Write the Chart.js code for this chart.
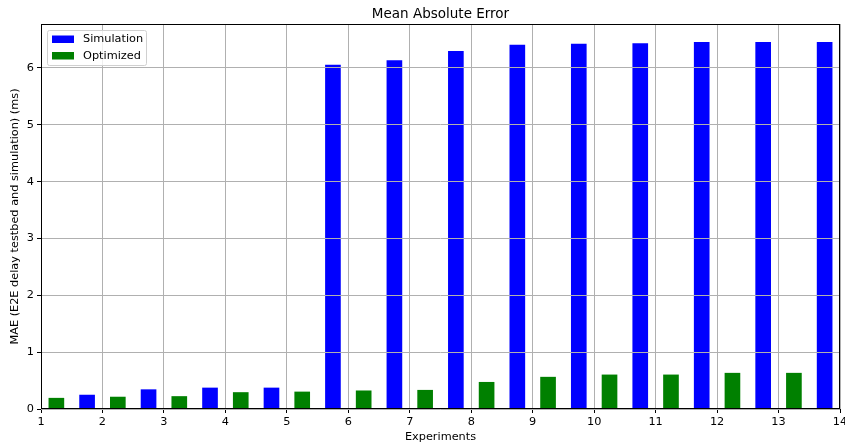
<!DOCTYPE html>
<html>
<head>
<meta charset="utf-8">
<script src="https://cdn.jsdelivr.net/npm/chart.js@4"></script>
<style>
  html, body { margin: 0; padding: 0; background: #fff; }
  canvas { display: block; }
</style>
</head>
<body>
<canvas id="mae-chart" width="845" height="448"></canvas>
<script>
// experiment positions on the x axis (bars sit between the integer ticks)
const SIM_X = [1.75, 2.75, 3.75, 4.75, 5.75, 6.75, 7.75, 8.75, 9.75, 10.75, 11.75, 12.75, 13.75];
const OPT_X = [1.25, 2.25, 3.25, 4.25, 5.25, 6.25, 7.25, 8.25, 9.25, 10.25, 11.25, 12.25, 13.25];

// MAE values in ms
const SIMULATION = [0.245, 0.34, 0.37, 0.37, 6.05, 6.13, 6.29, 6.40, 6.42, 6.43, 6.45, 6.45, 6.45];
const OPTIMIZED = [0.19, 0.21, 0.22, 0.29, 0.30, 0.32, 0.33, 0.47, 0.56, 0.60, 0.60, 0.63, 0.63];

const X_TICKS = [1, 2, 3, 4, 5, 6, 7, 8, 9, 10, 11, 12, 13, 14];
const Y_TICKS = [0, 1, 2, 3, 4, 5, 6];
const Y_MAX = 6.7725;
const TITLE = 'Mean Absolute Error';

const FONT = 'DejaVu Sans';
Chart.defaults.color = '#000';
Chart.defaults.font.family = FONT;

function toPoints(xs, ys) {
    return xs.map((x, i) => ({ x: x, y: ys[i] }));
}

// frame round the plot, title over the plot, legend box inside top-left
const framePlugin = {
    id: 'frameAndLegend',
    afterDraw(chart) {
        const ctx = chart.ctx;
        const a = chart.chartArea;
        ctx.save();
        ctx.strokeStyle = '#000';
        ctx.lineWidth = 1;
        ctx.strokeRect(a.left + 0.5, a.top + 0.5, a.right - a.left - 1, a.bottom - a.top - 1);

        // title centred on the axes
        ctx.fillStyle = '#000';
        ctx.font = '13.5px "' + FONT + '"';
        ctx.textAlign = 'center';
        ctx.textBaseline = 'alphabetic';
        ctx.fillText(TITLE, (a.left + a.right) / 2, a.top - 6);

        // legend
        const bx = a.left + 6, by = a.top + 6, bw = 99, bh = 35;
        ctx.fillStyle = 'rgba(255,255,255,0.8)';
        ctx.strokeStyle = '#d0d0d0';
        ctx.beginPath();
        ctx.roundRect(bx + 0.5, by + 0.5, bw, bh, 2);
        ctx.fill();
        ctx.stroke();
        ctx.font = '11.3px "' + FONT + '"';
        ctx.textAlign = 'left';
        ctx.textBaseline = 'middle';
        chart.data.datasets.forEach((ds, i) => {
            const cy = by + 9 + i * 16.5;
            ctx.fillStyle = ds.backgroundColor;
            ctx.fillRect(bx + 5, cy - 3.5, 22, 7.5);
            ctx.fillStyle = '#000';
            ctx.fillText(ds.label, bx + 36, cy + 0.5);
        });
        ctx.restore();
    }
};

new Chart(document.getElementById('mae-chart').getContext('2d'), {
    type: 'bar',
    data: {
        datasets: [
            {
                label: 'Simulation',
                data: toPoints(SIM_X, SIMULATION),
                backgroundColor: '#0000ff',
                barThickness: 15,
                grouped: false
            },
            {
                label: 'Optimized',
                data: toPoints(OPT_X, OPTIMIZED),
                backgroundColor: '#008000',
                barThickness: 15,
                grouped: false
            }
        ]
    },
    options: {
        responsive: false,
        animation: false,
        layout: { padding: { left: 0, right: 5, top: 24, bottom: 0 } },
        plugins: {
            legend: { display: false },
            tooltip: { enabled: false },
            title: { display: false }
        },
        scales: {
            x: {
                type: 'linear',
                offset: false,
                min: 1,
                max: 14,
                afterBuildTicks: (scale) => { scale.ticks = X_TICKS.map(v => ({ value: v })); },
                afterFit: (scale) => { scale.height = 39; scale.paddingLeft = 0; scale.paddingRight = 0; },
                ticks: { font: { size: 11.3 }, padding: 2, maxRotation: 0, autoSkip: false },
                grid: { offset: false, color: '#b0b0b0', lineWidth: 1, tickColor: '#000', tickLength: 4, z: 1 },
                border: { display: false },
                title: {
                    display: true,
                    text: 'Experiments',
                    font: { size: 11.3 },
                    padding: { top: 0, bottom: 4 }
                }
            },
            y: {
                min: 0,
                max: Y_MAX,
                afterBuildTicks: (scale) => { scale.ticks = Y_TICKS.map(v => ({ value: v })); },
                afterFit: (scale) => { scale.width = 41; },
                ticks: { font: { size: 11.3 }, padding: 3 },
                grid: { color: '#b0b0b0', lineWidth: 1, tickColor: '#000', tickLength: 4, z: 1 },
                border: { display: false },
                title: {
                    display: true,
                    text: 'MAE (E2E delay testbed and simulation) (ms)',
                    font: { size: 11.3 },
                    padding: { top: 8, bottom: 0 }
                }
            }
        }
    },
    plugins: [framePlugin]
});
</script>
</body>
</html>
